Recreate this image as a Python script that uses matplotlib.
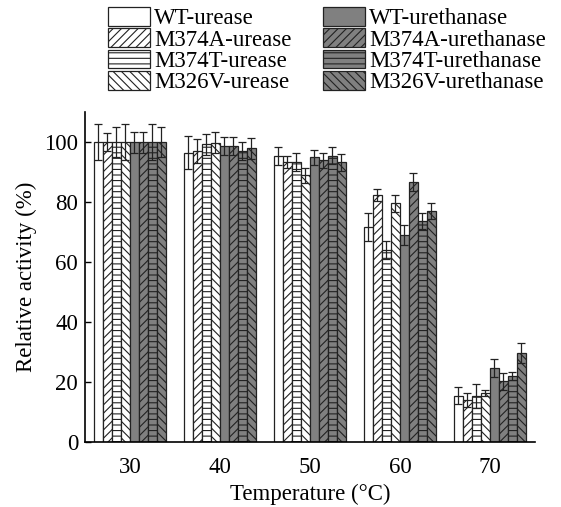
import matplotlib
matplotlib.use("Agg")
import matplotlib.pyplot as plt
import numpy as np
from matplotlib.patches import Patch

plt.rcParams['font.family'] = ['Liberation Serif', 'DejaVu Serif']
plt.rcParams['hatch.linewidth'] = 0.8

temperatures = ["30", "40", "50", "60", "70"]
series_names = ["WT-urease", "M374A-urease", "M374T-urease", "M326V-urease",
                "WT-urethanase", "M374A-urethanase", "M374T-urethanase", "M326V-urethanase"]

wt_urease = [100, 96.5, 95.4, 71.6, 15.4]
m374a_urease = [100, 97, 93.5, 82.4, 14]
m374t_urease = [100, 99.3, 93.4, 64, 15.5]
m326v_urease = [100, 99.7, 89, 79.6, 16.3]
wt_urethanase = [100, 98.8, 94.9, 69, 24.7]
m374a_urethanase = [100, 98.8, 94, 86.7, 20.2]
m374t_urethanase = [100, 97.1, 95.4, 73.7, 22]
m326v_urethanase = [100, 97.9, 93.2, 77, 29.8]

wt_urease_err = [6, 5.5, 3, 4.6, 2.8]
m374a_urease_err = [3, 4, 2, 1.9, 2.3]
m374t_urease_err = [5, 3.5, 3, 3, 4]
m326v_urease_err = [6, 3.5, 2.5, 2.8, 1]
wt_urethanase_err = [3.5, 3, 2.5, 3.3, 3]
m374a_urethanase_err = [3.5, 3, 2.5, 2.9, 2.8]
m374t_urethanase_err = [6, 3, 2.8, 2.8, 1.2]
m326v_urethanase_err = [5, 3.5, 2.8, 2.8, 3.3]

values = [wt_urease, m374a_urease, m374t_urease, m326v_urease,
          wt_urethanase, m374a_urethanase, m374t_urethanase, m326v_urethanase]
errors = [wt_urease_err, m374a_urease_err, m374t_urease_err, m326v_urease_err,
          wt_urethanase_err, m374a_urethanase_err, m374t_urethanase_err, m326v_urethanase_err]

fills = ['white'] * 4 + ['#808080'] * 4
hatches = [None, '////', '---', '\\\\\\\\', None, '////', '---', '\\\\\\\\']

fig = plt.figure(figsize=(5.61, 5.07), dpi=100)
ax = fig.add_axes([0.1515, 0.128, 0.802, 0.651])

x = np.arange(len(temperatures))
width = 0.1
n = len(values)
for i, (vals, errs) in enumerate(zip(values, errors)):
    pos = x + (i - (n - 1) / 2) * width
    ax.bar(pos, vals, width, color=fills[i], edgecolor='#222222', linewidth=0.9,
           hatch=hatches[i], zorder=2)
    ax.errorbar(pos, vals, yerr=errs, fmt='none', ecolor='#222222', elinewidth=0.9,
                capsize=3.2, capthick=0.9, zorder=3)

ax.set_xlim(-0.5, 4.5)
ax.set_ylim(0, 110)
ax.set_yticks([0, 20, 40, 60, 80, 100])
ax.set_xticks(x)
ax.set_xticklabels(temperatures)
ax.tick_params(axis='x', length=0, labelsize=16.5, pad=11)
ax.tick_params(axis='y', direction='in', length=4, labelsize=16.5, width=1, pad=5)
ax.spines['top'].set_visible(False)
ax.spines['right'].set_visible(False)
ax.spines['left'].set_linewidth(1.2)
ax.spines['bottom'].set_linewidth(1.2)
ax.set_ylabel("Relative activity (%)", fontsize=16.5, labelpad=5)
ax.set_xlabel("Temperature (°C)", fontsize=16.5, labelpad=4)

handles = [Patch(facecolor=fills[i], edgecolor='#222222', hatch=hatches[i], linewidth=0.9)
           for i in range(n)]
leg_kw = dict(frameon=False, fontsize=16.5, handlelength=1.85, handleheight=0.88,
              handletextpad=0.15, labelspacing=-0.04, borderpad=0, borderaxespad=0,
              loc='upper left')
fig.legend(handles[:4], series_names[:4], bbox_to_anchor=(108 / 561, 1 - 7 / 507), **leg_kw)
fig.legend(handles[4:], series_names[4:], bbox_to_anchor=(323 / 561, 1 - 7 / 507), **leg_kw)

fig.savefig("out.png", dpi=100)
